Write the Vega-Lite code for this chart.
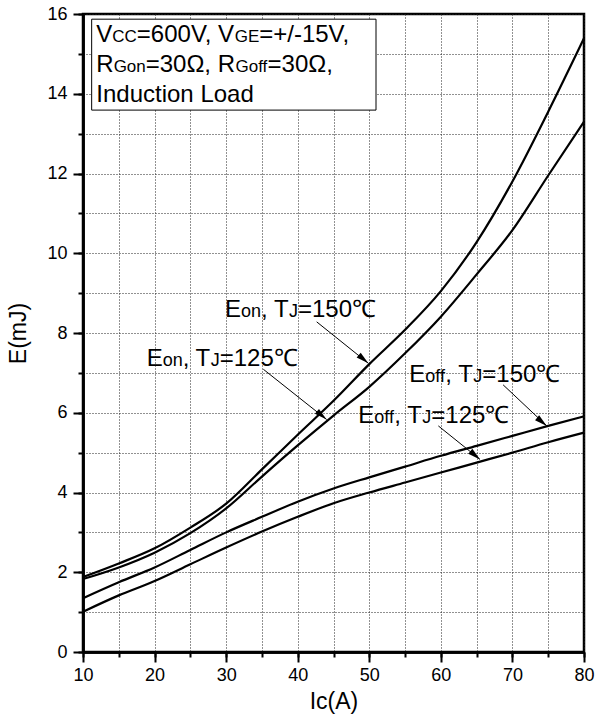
{
  "$schema": "https://vega.github.io/schema/vega-lite/v6.json",
  "width": 501,
  "height": 638,
  "autosize": {"type": "none"},
  "padding": {"left": 83, "top": 14, "right": 13, "bottom": 66},
  "background": "white",
  "config": {
    "font": "Liberation Sans",
    "view": {"stroke": "black", "strokeWidth": 2.5},
    "axis": {
      "domainColor": "black", "domainWidth": 2.5,
      "tickColor": "black", "tickWidth": 2,
      "labelColor": "black", "labelFont": "Liberation Sans", "labelFontSize": 18,
      "titleColor": "black", "titleFont": "Liberation Sans", "titleFontSize": 23, "titleFontWeight": "normal",
      "gridColor": "#222", "gridDash": [1, 2], "gridWidth": 1,
      "labelOverlap": false, "labelBound": false, "labelFlush": false
    }
  },
  "resolve": {"axis": {"x": "independent", "y": "independent"}},
  "datasets": {
    "curves": [
      {"series":"Eon150","Ic":10,"E":1.88},{"series":"Eon150","Ic":15,"E":2.22},{"series":"Eon150","Ic":20,"E":2.6},{"series":"Eon150","Ic":25,"E":3.12},{"series":"Eon150","Ic":30,"E":3.72},{"series":"Eon150","Ic":35,"E":4.58},{"series":"Eon150","Ic":40,"E":5.45},{"series":"Eon150","Ic":45,"E":6.3},{"series":"Eon150","Ic":50,"E":7.22},{"series":"Eon150","Ic":55,"E":8.08},{"series":"Eon150","Ic":60,"E":9.05},{"series":"Eon150","Ic":65,"E":10.28},{"series":"Eon150","Ic":70,"E":11.8},{"series":"Eon150","Ic":75,"E":13.55},{"series":"Eon150","Ic":80,"E":15.39},
      {"series":"Eon125","Ic":10,"E":1.83},{"series":"Eon125","Ic":15,"E":2.12},{"series":"Eon125","Ic":20,"E":2.49},{"series":"Eon125","Ic":25,"E":2.98},{"series":"Eon125","Ic":30,"E":3.6},{"series":"Eon125","Ic":35,"E":4.4},{"series":"Eon125","Ic":40,"E":5.18},{"series":"Eon125","Ic":45,"E":5.93},{"series":"Eon125","Ic":50,"E":6.65},{"series":"Eon125","Ic":55,"E":7.49},{"series":"Eon125","Ic":60,"E":8.41},{"series":"Eon125","Ic":65,"E":9.47},{"series":"Eon125","Ic":70,"E":10.58},{"series":"Eon125","Ic":75,"E":11.95},{"series":"Eon125","Ic":80,"E":13.3},
      {"series":"Eoff150","Ic":10,"E":1.35},{"series":"Eoff150","Ic":15,"E":1.75},{"series":"Eoff150","Ic":20,"E":2.12},{"series":"Eoff150","Ic":25,"E":2.56},{"series":"Eoff150","Ic":30,"E":3.0},{"series":"Eoff150","Ic":35,"E":3.39},{"series":"Eoff150","Ic":40,"E":3.77},{"series":"Eoff150","Ic":45,"E":4.1},{"series":"Eoff150","Ic":50,"E":4.38},{"series":"Eoff150","Ic":55,"E":4.65},{"series":"Eoff150","Ic":60,"E":4.92},{"series":"Eoff150","Ic":65,"E":5.17},{"series":"Eoff150","Ic":70,"E":5.42},{"series":"Eoff150","Ic":75,"E":5.67},{"series":"Eoff150","Ic":80,"E":5.91},
      {"series":"Eoff125","Ic":10,"E":1.01},{"series":"Eoff125","Ic":15,"E":1.42},{"series":"Eoff125","Ic":20,"E":1.78},{"series":"Eoff125","Ic":25,"E":2.2},{"series":"Eoff125","Ic":30,"E":2.62},{"series":"Eoff125","Ic":35,"E":3.02},{"series":"Eoff125","Ic":40,"E":3.39},{"series":"Eoff125","Ic":45,"E":3.73},{"series":"Eoff125","Ic":50,"E":4.0},{"series":"Eoff125","Ic":55,"E":4.25},{"series":"Eoff125","Ic":60,"E":4.5},{"series":"Eoff125","Ic":65,"E":4.75},{"series":"Eoff125","Ic":70,"E":5.0},{"series":"Eoff125","Ic":75,"E":5.26},{"series":"Eoff125","Ic":80,"E":5.5}
    ],
    "arrows": [
      {"x":42.65,"y":8.28,"x2":49.87,"y2":7.24},
      {"x":35.2,"y":7.09,"x2":44.04,"y2":5.83},
      {"x":68.7,"y":6.7,"x2":74.8,"y2":5.67},
      {"x":59.65,"y":5.67,"x2":65.47,"y2":4.83}
    ],
    "box": [{"x":11.21,"x2":50.94,"y":15.87,"y2":13.59}],
    "textMain": [
      {"t":"E","x":29.84,"y":8.41},{"t":", T","x":34.87,"y":8.41},{"t":"=150℃","x":40.04,"y":8.41},
      {"t":"E","x":18.9,"y":7.16},{"t":", T","x":23.93,"y":7.16},{"t":"=125℃","x":29.1,"y":7.16},
      {"t":"E","x":55.59,"y":6.78},{"t":", T","x":60.62,"y":6.78},{"t":"=150℃","x":65.79,"y":6.78},
      {"t":"E","x":48.47,"y":5.75},{"t":", T","x":53.5,"y":5.75},{"t":"=125℃","x":58.67,"y":5.75},
      {"t":"V","x":11.86,"y":15.3},{"t":"=600V, V","x":17.52,"y":15.3},{"t":"=+/-15V,","x":34.62,"y":15.3},
      {"t":"R","x":11.86,"y":14.55},{"t":"=30Ω, R","x":18.76,"y":14.55},{"t":"=30Ω,","x":35.79,"y":14.55},
      {"t":"Induction Load","x":11.86,"y":13.79}
    ],
    "textSub": [
      {"t":"on","x":32.08,"y":8.41},{"t":"J","x":38.78,"y":8.41},
      {"t":"on","x":21.14,"y":7.16},{"t":"J","x":27.84,"y":7.16},
      {"t":"off","x":57.83,"y":6.78},{"t":"J","x":64.53,"y":6.78},
      {"t":"off","x":50.7,"y":5.75},{"t":"J","x":57.41,"y":5.75}
    ],
    "boxSub": [
      {"t":"CC","x":14.09,"y":15.3},{"t":"GE","x":31.2,"y":15.3},
      {"t":"Gon","x":14.28,"y":14.55},{"t":"Goff","x":31.31,"y":14.55}
    ]
  },
  "layer": [
    {
      "data": {"name": "curves"},
      "mark": {"type": "line", "color": "black", "strokeWidth": 2.2, "interpolate": "monotone"},
      "encoding": {
        "x": {"field": "Ic", "type": "quantitative",
          "scale": {"domain": [10, 80], "nice": false},
          "axis": {"orient": "bottom", "title": null, "values": [10,15,20,25,30,35,40,45,50,55,60,65,70,75,80],
            "labels": false, "tickSize": 5, "grid": true}},
        "y": {"field": "E", "type": "quantitative",
          "scale": {"domain": [0, 16], "nice": false},
          "axis": {"orient": "left", "title": null, "values": [0,1,2,3,4,5,6,7,8,9,10,11,12,13,14,15,16],
            "labels": false, "tickSize": 5, "grid": true}},
        "detail": {"field": "series", "type": "nominal"}
      }
    },
    {
      "data": {"name": "box"},
      "mark": {"type": "rect", "fill": "white", "stroke": "black", "strokeWidth": 1},
      "encoding": {
        "x": {"field": "x", "type": "quantitative",
          "axis": {"orient": "bottom", "title": "Ic(A)", "values": [10,20,30,40,50,60,70,80],
            "tickSize": 10, "labelPadding": 4, "titlePadding": 6, "grid": false}},
        "x2": {"field": "x2"},
        "y": {"field": "y", "type": "quantitative",
          "axis": {"orient": "left", "title": "E(mJ)", "values": [0,2,4,6,8,10,12,14,16],
            "tickSize": 10, "labelPadding": 6, "titlePadding": 16, "grid": false}},
        "y2": {"field": "y2"}
      }
    },
    {
      "data": {"name": "arrows"},
      "mark": {"type": "rule", "color": "black", "strokeWidth": 1},
      "encoding": {
        "x": {"field": "x", "type": "quantitative", "axis": null},
        "x2": {"field": "x2"},
        "y": {"field": "y", "type": "quantitative", "axis": null},
        "y2": {"field": "y2"}
      }
    },
    {
      "data": {"name": "arrows"},
      "mark": {"type": "point", "filled": true, "color": "black", "opacity": 1, "size": 160, "angle": 130,
        "shape": "M0,0L-0.5,2L0.5,2Z"},
      "encoding": {
        "x": {"field": "x2", "type": "quantitative", "axis": null},
        "y": {"field": "y2", "type": "quantitative", "axis": null}
      }
    },
    {
      "data": {"name": "textMain"},
      "mark": {"type": "text", "align": "left", "baseline": "alphabetic", "fontSize": 24, "color": "black", "font": "Liberation Sans"},
      "encoding": {
        "x": {"field": "x", "type": "quantitative", "axis": null},
        "y": {"field": "y", "type": "quantitative", "axis": null},
        "text": {"field": "t"}
      }
    },
    {
      "data": {"name": "textSub"},
      "mark": {"type": "text", "align": "left", "baseline": "alphabetic", "fontSize": 18, "color": "black", "font": "Liberation Sans"},
      "encoding": {
        "x": {"field": "x", "type": "quantitative", "axis": null},
        "y": {"field": "y", "type": "quantitative", "axis": null},
        "text": {"field": "t"}
      }
    },
    {
      "data": {"name": "boxSub"},
      "mark": {"type": "text", "align": "left", "baseline": "alphabetic", "fontSize": 17, "color": "black", "font": "Liberation Sans"},
      "encoding": {
        "x": {"field": "x", "type": "quantitative", "axis": null},
        "y": {"field": "y", "type": "quantitative", "axis": null},
        "text": {"field": "t"}
      }
    }
  ]
}
